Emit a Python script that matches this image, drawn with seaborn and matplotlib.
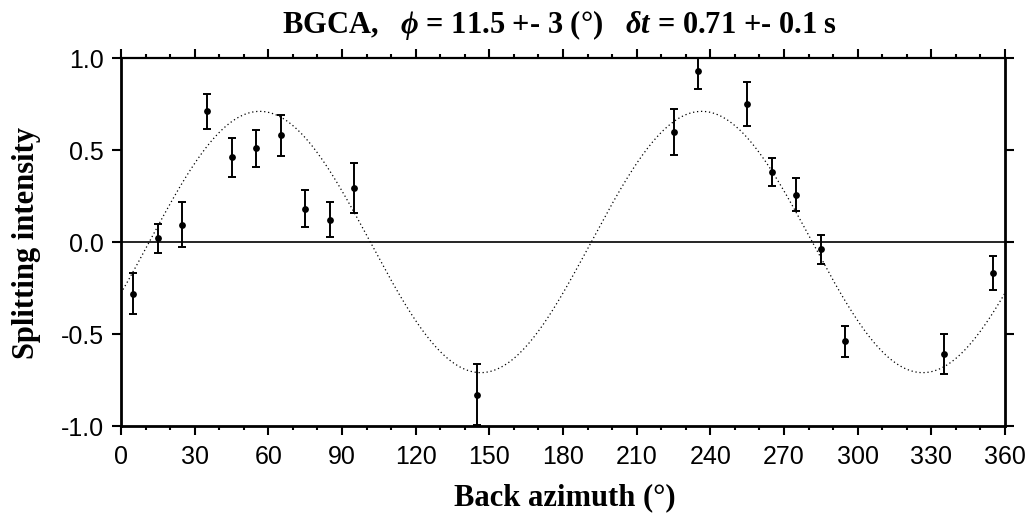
import numpy as np
import pandas as pd
import matplotlib
matplotlib.use('Agg')
import matplotlib.pyplot as plt
import seaborn as sns
from matplotlib.ticker import MultipleLocator

# --- Data ---
back_azimuth = [5, 15, 25, 35, 45, 55, 65, 75, 85, 95, 145,
                225, 235, 255, 265, 275, 285, 295, 335, 355]
splitting_intensity = [-0.28, 0.02, 0.095, 0.71, 0.46, 0.51, 0.58, 0.18, 0.12, 0.295, -0.83,
                       0.60, 0.93, 0.75, 0.38, 0.256, -0.04, -0.54, -0.61, -0.17]
si_error = [0.11, 0.08, 0.12, 0.097, 0.105, 0.1, 0.11, 0.1, 0.095, 0.135, 0.165,
            0.125, 0.1, 0.12, 0.075, 0.09, 0.078, 0.086, 0.108, 0.093]

# best-fit splitting parameters (from the title)
PHI = 11.5
PHI_ERR = 3
DT = 0.71
DT_ERR = 0.1
STATION = 'BGCA'

x_ticks = list(range(0, 361, 30))
y_ticks = [-1.0, -0.5, 0.0, 0.5, 1.0]

SERIF = 'Liberation Serif'
SANS = 'Liberation Sans'


def main():
    sns.set_theme(style='ticks')
    plt.rcParams['font.family'] = [SANS, 'DejaVu Sans']
    plt.rcParams['mathtext.fontset'] = 'custom'
    plt.rcParams['mathtext.rm'] = f'{SERIF}:bold'
    plt.rcParams['mathtext.it'] = f'{SERIF}:italic:bold'
    plt.rcParams['mathtext.bf'] = f'{SERIF}:bold'
    # seaborn greys the text; the reference is plain black
    for key in ['text.color', 'axes.labelcolor', 'xtick.color', 'ytick.color', 'axes.edgecolor']:
        plt.rcParams[key] = 'black'

    df = pd.DataFrame({'baz': back_azimuth, 'si': splitting_intensity, 'err': si_error})

    # predicted splitting intensity for the best-fit parameters
    baz_model = np.linspace(0, 360, 721)
    model = pd.DataFrame({'baz': baz_model,
                          'si': DT * np.sin(np.deg2rad(2 * (baz_model - PHI)))})

    fig = plt.figure(figsize=(10.31, 5.14), dpi=100)
    ax = fig.add_axes([121 / 1031, 1 - 426 / 514, 884 / 1031, 368 / 514])

    ax.axhline(0, color='black', lw=1.2, zorder=1)
    sns.lineplot(data=model, x='baz', y='si', ax=ax, color='black', lw=0.9,
                 linestyle=(0, (1, 2.2)), zorder=2)
    ax.errorbar(df['baz'], df['si'], yerr=df['err'], fmt='none', ecolor='black',
                elinewidth=1.4, capsize=2.6, capthick=1.4, zorder=3)
    sns.scatterplot(data=df, x='baz', y='si', ax=ax, color='black', s=24,
                    edgecolor='black', linewidth=0, zorder=4)

    ax.set_xlim(0, 360)
    ax.set_ylim(-1, 1)
    ax.set_xticks(x_ticks)
    ax.xaxis.set_minor_locator(MultipleLocator(10))
    ax.set_yticks(y_ticks)
    ax.set_yticklabels([f'{v:.1f}' for v in y_ticks])
    ax.set_xlabel('')
    ax.set_ylabel('')

    for side in ['left', 'right', 'top', 'bottom']:
        ax.spines[side].set_visible(True)
        ax.spines[side].set_color('black')
        ax.spines[side].set_linewidth(2.0)
    ax.spines['top'].set_linewidth(1.6)

    ax.tick_params(axis='both', which='major', direction='out', length=6.5, width=1.5,
                   color='black', labelsize=18, labelcolor='black')
    ax.tick_params(axis='x', which='minor', direction='out', length=3, width=1.5, color='black')
    ax.tick_params(axis='x', which='both', top=True, bottom=True, labeltop=False)
    ax.tick_params(axis='y', which='both', left=True, right=True, labelright=False)
    ax.tick_params(axis='x', which='major', pad=7)
    ax.tick_params(axis='y', which='major', pad=6)

    title = (f'{STATION},   $\\phi$ = {PHI} +- {PHI_ERR} (°)   '
             f'$\\delta t$ = {DT} +- {DT_ERR} s')
    fig.text(560 / 1031, 1 - 33 / 514, title, ha='center', va='baseline',
             family=SERIF, fontweight='bold', fontsize=22, color='black')
    fig.text(565 / 1031, 1 - 505 / 514, 'Back azimuth (°)', ha='center', va='baseline',
             family=SERIF, fontweight='bold', fontsize=22, color='black')
    fig.text(27 / 1031, 1 - 243 / 514, 'Splitting intensity', ha='center', va='center',
             rotation=90, family=SERIF, fontweight='bold', fontsize=22, color='black')

    fig.savefig('out.png', dpi=100)
    plt.close(fig)


if __name__ == '__main__':
    main()
